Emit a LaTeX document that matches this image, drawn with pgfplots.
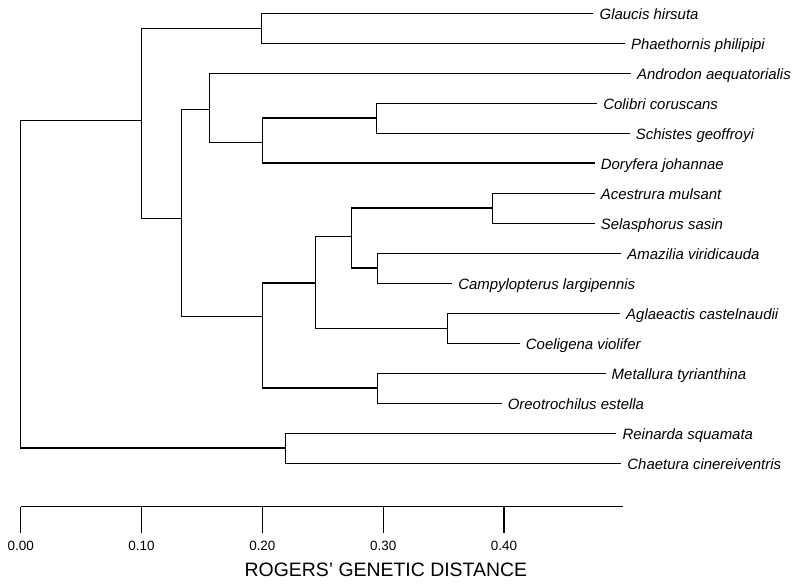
\documentclass[border=0pt]{standalone}
\usepackage{fontspec}
\setmainfont{Liberation Sans}
\usepackage{pgfplots}
\pgfplotsset{compat=1.18}
\begin{document}
\begin{tikzpicture}
\begin{axis}[
  scale only axis,
  width=602.6bp, height=506.7bp,
  xmin=0, xmax=0.4987,
  ymin=-0.433, ymax=16.456,
  y dir=reverse,
  clip=false,
  axis x line=bottom,
  axis y line=none,
  x axis line style={-, line width=1.3bp},
  xtick={0,0.1,0.2,0.3,0.4},
  ytick=\empty,
  tick align=outside,
  major tick length=26bp,
  x tick style={line width=1.2bp, black},
  xticklabel style={font=\fontsize{13.5}{16}\selectfont, yshift=-5bp,
    /pgf/number format/fixed, /pgf/number format/fixed zerofill,
    /pgf/number format/precision=2, /pgf/number format/assume math mode=true},
  xlabel={ROGERS' GENETIC DISTANCE},
  xlabel style={font=\fontsize{19.5}{22}\selectfont, at={(ticklabel cs:0.606)}, anchor=north, yshift=-5bp},
  cycle list={{black, solid, line width=1.3bp, mark=none}},
]
% each bracket: child a -> node -> child b
\addplot coordinates {(0.474,0) (0.199,0) (0.199,1) (0.500,1)};        % Glaucis / Phaethornis
\addplot coordinates {(0.477,3) (0.294,3) (0.294,4) (0.504,4)};        % Colibri / Schistes
\addplot coordinates {(0.294,3.5) (0.200,3.5) (0.200,5) (0.475,5)};    % + Doryfera
\addplot coordinates {(0.505,2) (0.156,2) (0.156,4.3) (0.200,4.3)};    % + Androdon
\addplot coordinates {(0.475,6) (0.390,6) (0.390,7) (0.475,7)};        % Acestrura / Selasphorus
\addplot coordinates {(0.497,8) (0.295,8) (0.295,9) (0.357,9)};        % Amazilia / Campylopterus
\addplot coordinates {(0.390,6.5) (0.274,6.5) (0.274,8.5) (0.295,8.5)};
\addplot coordinates {(0.496,10) (0.353,10) (0.353,11) (0.413,11)};    % Aglaeactis / Coeligena
\addplot coordinates {(0.274,7.45) (0.244,7.45) (0.244,10.5) (0.353,10.5)};
\addplot coordinates {(0.484,12) (0.295,12) (0.295,13) (0.398,13)};    % Metallura / Oreotrochilus
\addplot coordinates {(0.244,9.0) (0.200,9.0) (0.200,12.5) (0.295,12.5)};
\addplot coordinates {(0.156,3.2) (0.133,3.2) (0.133,10.1) (0.200,10.1)};
\addplot coordinates {(0.199,0.5) (0.100,0.5) (0.100,6.84) (0.133,6.84)};
\addplot coordinates {(0.493,14) (0.219,14) (0.219,15) (0.497,15)};    % Reinarda / Chaetura
\addplot coordinates {(0.100,3.59) (0,3.59) (0,14.5) (0.219,14.5)};     % root

% leaf labels
\addplot[draw=none, nodes near coords, point meta=explicit symbolic,
  nodes near coords style={anchor=base west, inner sep=0pt, xshift=6bp, yshift=-6.5bp,
    font=\itshape\fontsize{15}{18}\selectfont}]
coordinates {
(0.474,0) [Glaucis hirsuta]
(0.500,1) [Phaethornis philipipi]
(0.505,2) [Androdon aequatorialis]
(0.477,3) [Colibri coruscans]
(0.504,4) [Schistes geoffroyi]
(0.475,5) [Doryfera johannae]
(0.475,6) [Acestrura mulsant]
(0.475,7) [Selasphorus sasin]
(0.497,8) [Amazilia viridicauda]
(0.357,9) [Campylopterus largipennis]
(0.496,10) [Aglaeactis castelnaudii]
(0.413,11) [Coeligena violifer]
(0.484,12) [Metallura tyrianthina]
(0.398,13) [Oreotrochilus estella]
(0.493,14) [Reinarda squamata]
(0.497,15) [Chaetura cinereiventris]
};
\end{axis}
\path ([shift={(-20.7bp,-77.3bp)}]current axis.south west) rectangle ([shift={(782.3bp,0bp)}]current axis.north west);
\end{tikzpicture}
\end{document}
